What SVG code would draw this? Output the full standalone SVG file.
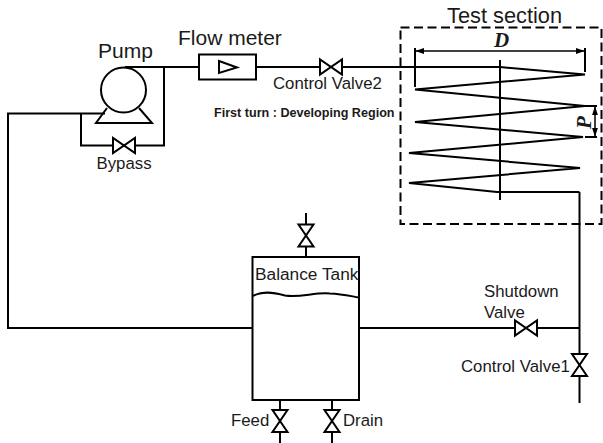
<svg xmlns="http://www.w3.org/2000/svg" width="603" height="443" viewBox="0 0 603 443">
<style>
text{font-family:"Liberation Sans",Arial,sans-serif;fill:#1a1a1a}
.l{fill:none;stroke:#000;stroke-width:2}
.t{fill:none;stroke:#000;stroke-width:2}
.v{fill:#fff;stroke:#000;stroke-width:2}
.big{font-size:21px}
.mid{font-size:16.800px}
.sym{font-family:"Liberation Serif",serif;font-size:21px;font-weight:700;font-style:italic}
</style>
<defs>
<g id="vh"><path class="v" d="M-11,-7.500V7.500L11,-7.500V7.500Z"/></g>
<g id="vv"><path class="v" d="M-7.500,-11H7.500L-7.500,11H7.500Z"/></g>
<marker id="a" markerWidth="6" markerHeight="5" refX="5.500" refY="2.500" orient="auto-start-reverse"><path d="M0,0.500L6,2.500L0,4.500Z" fill="#000"/></marker>
</defs>
<rect width="603" height="443" fill="#fff"/>
<g id="connectors">
<path class="l" d="M125,67H199M256,67H320M342,67H500"/>
<path class="l" d="M105,113.500H8V328H252"/>
<path class="l" d="M81,113.500V145.500H113M135,145.500H164V67"/>
<path class="l" d="M359,328H515M537,328H579.500"/>
<path class="l" d="M306,213V257M280,400V443M332,400V443"/>
<path class="l" d="M579.500,192V403"/>
</g>
<g id="pump"><circle class="l" cx="123.500" cy="90" r="22.500"/><path class="l" d="M107,108L96,123H152L139,108"/><text class="big" x="98" y="58">Pump</text></g>
<g id="flow-meter"><rect class="l" x="199" y="54.500" width="57" height="25"/><path class="l" d="M219,61V73L237,67.500Z"/><text class="big" x="178" y="45">Flow meter</text></g>
<g id="bypass-valve"><use href="#vh" x="124" y="145.500"/><text class="mid" x="96.500" y="169">Bypass</text></g>
<g id="control-valve-2"><use href="#vh" x="331" y="67"/><text class="mid" x="273" y="89">Control Valve2</text></g>
<text x="214" y="117" font-size="12.600" font-weight="700">First turn : Developing Region</text>
<g id="test-section">
<rect x="400.500" y="27.500" width="201" height="196.500" fill="none" stroke="#000" stroke-width="2" stroke-dasharray="9 4.500"/>
<text x="447" y="23" font-size="21.800">Test section</text>
<path class="t" d="M500,67L585,74.500L415,89.500L585,106L415,122L583,137L409,153L580,168L409,183L497,192H579.500"/>
<path class="l" d="M500,60V200"/>
<path class="l" d="M415,48V87M585,48V72"/>
<path fill="none" stroke="#000" stroke-width="1.500" d="M416,51H584" marker-start="url(#a)" marker-end="url(#a)"/>
<path class="l" d="M585,106H597M585,137H597"/>
<path fill="none" stroke="#000" stroke-width="1.500" d="M595,107V136" marker-start="url(#a)" marker-end="url(#a)"/>
<text class="sym" x="494" y="47">D</text>
<text class="sym" transform="translate(591,129) rotate(-90)">P</text>
</g>
<g id="balance-tank">
<rect class="l" x="252.500" y="257" width="106.500" height="143"/>
<path class="l" d="M253,296C262,291 272,292 285,295.500C300,298 315,292 330,293.500C342,294 350,296 359,297.500"/>
<text x="255" y="280" font-size="17.300">Balance Tank</text>
</g>
<g id="top-valve"><use href="#vv" x="306" y="235.500"/></g>
<g id="feed-valve"><use href="#vv" x="280" y="421"/><text class="mid" x="231" y="426">Feed</text></g>
<g id="drain-valve"><use href="#vv" x="332" y="421"/><text class="mid" x="343" y="426">Drain</text></g>
<g id="shutdown-valve"><use href="#vh" x="526" y="328"/><text class="mid" x="484" y="297">Shutdown</text><text class="mid" x="484" y="318">Valve</text></g>
<g id="control-valve-1"><use href="#vv" x="579.500" y="365"/><text class="mid" x="461" y="372">Control Valve1</text></g>
</svg>
